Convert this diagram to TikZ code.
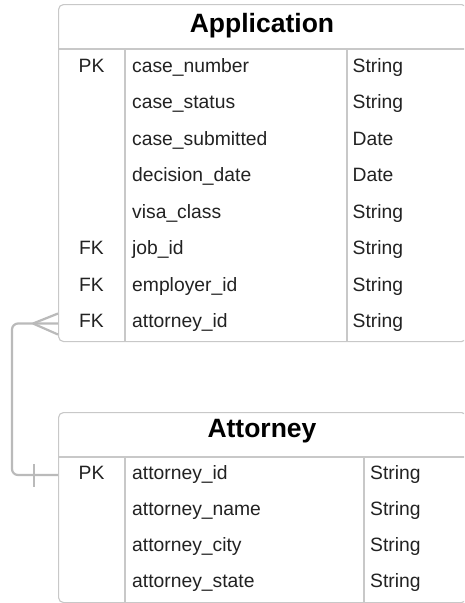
\documentclass[tikz,border=0pt]{standalone}
\usepackage{fontspec}
\setmainfont{Liberation Sans}
\usetikzlibrary{calc}
\definecolor{boxgray}{HTML}{C8C8C8}
\definecolor{conngray}{HTML}{BABABA}
\definecolor{txt}{HTML}{222222}
\tikzset{
  tbl/.style={draw=boxgray, line width=1.1pt, rounded corners=5pt, fill=white, inner sep=0pt, anchor=north west},
  gridline/.style={draw=boxgray, line width=1.1pt},
  cell/.style={font=\fontsize{19.3}{22}\selectfont, text=txt, inner sep=0pt},
  title/.style={font=\fontsize{26.5}{30}\bfseries\selectfont, text=black, inner sep=0pt, anchor=base},
  conn/.style={draw=conngray, line width=2.2pt},
}
\begin{document}
\begin{tikzpicture}[x=1pt,y=-1pt]
\clip (0,0) rectangle (464,603);
\fill[white] (0,0) rectangle (464,603);
% Application table
\node[tbl, minimum width=408pt, minimum height=337pt] (app) at (58,4) {};
\draw[gridline] (58,49) -- (466,49);
\draw[gridline] (125,49) -- (125,341);
\draw[gridline] (347,49) -- (347,341);
\node[title] (apptitle) at (262,32) {Application};
\foreach \i/\k/\n/\t in {1/PK/case\_number/String, 2//case\_status/String, 3//case\_submitted/Date, 4//decision\_date/Date, 5//visa\_class/String, 6/FK/job\_id/String, 7/FK/employer\_id/String, 8/FK/attorney\_id/String}{
  \node[cell, anchor=base] (a-k\i) at (91.5, 49+36.5*\i-36.5+23) {\strut\k};
  \node[cell, anchor=base west] (a-n\i) at (132, 49+36.5*\i-36.5+23) {\n};
  \node[cell, anchor=base west] (a-t\i) at (352.5, 49+36.5*\i-36.5+23) {\t};
}
% Attorney table
\node[tbl, minimum width=408pt, minimum height=190pt] (att) at (58,412) {};
\draw[gridline] (58,457) -- (466,457);
\draw[gridline] (125,457) -- (125,602);
\draw[gridline] (364,457) -- (364,602);
\node[title] (atttitle) at (262,437) {Attorney};
\foreach \i/\k/\n/\t in {1/PK/attorney\_id/String, 2//attorney\_name/String, 3//attorney\_city/String, 4//attorney\_state/String}{
  \node[cell, anchor=base] (b-k\i) at (91.5, 457+36.25*\i-36.25+22) {\strut\k};
  \node[cell, anchor=base west] (b-n\i) at (132, 457+36.25*\i-36.25+22) {\n};
  \node[cell, anchor=base west] (b-t\i) at (370, 457+36.25*\i-36.25+22) {\t};
}
% connector
\coordinate (cfrom) at ($(app.west |- a-n8)+(0,1)$);
\coordinate (cto) at ($(att.west |- b-n1)+(0,1)$);
\draw[conn, rounded corners=6pt] (cfrom) -- ++(-46,0) |- (cto);
\draw[conn] ($(cfrom)+(-25,0)$) -- ($(cfrom)+(0,-10)$);
\draw[conn] ($(cfrom)+(-25,0)$) -- ($(cfrom)+(0,11)$);
\draw[conn] ($(cto)+(-24,-11)$) -- ($(cto)+(-24,12)$);
\end{tikzpicture}
\end{document}
